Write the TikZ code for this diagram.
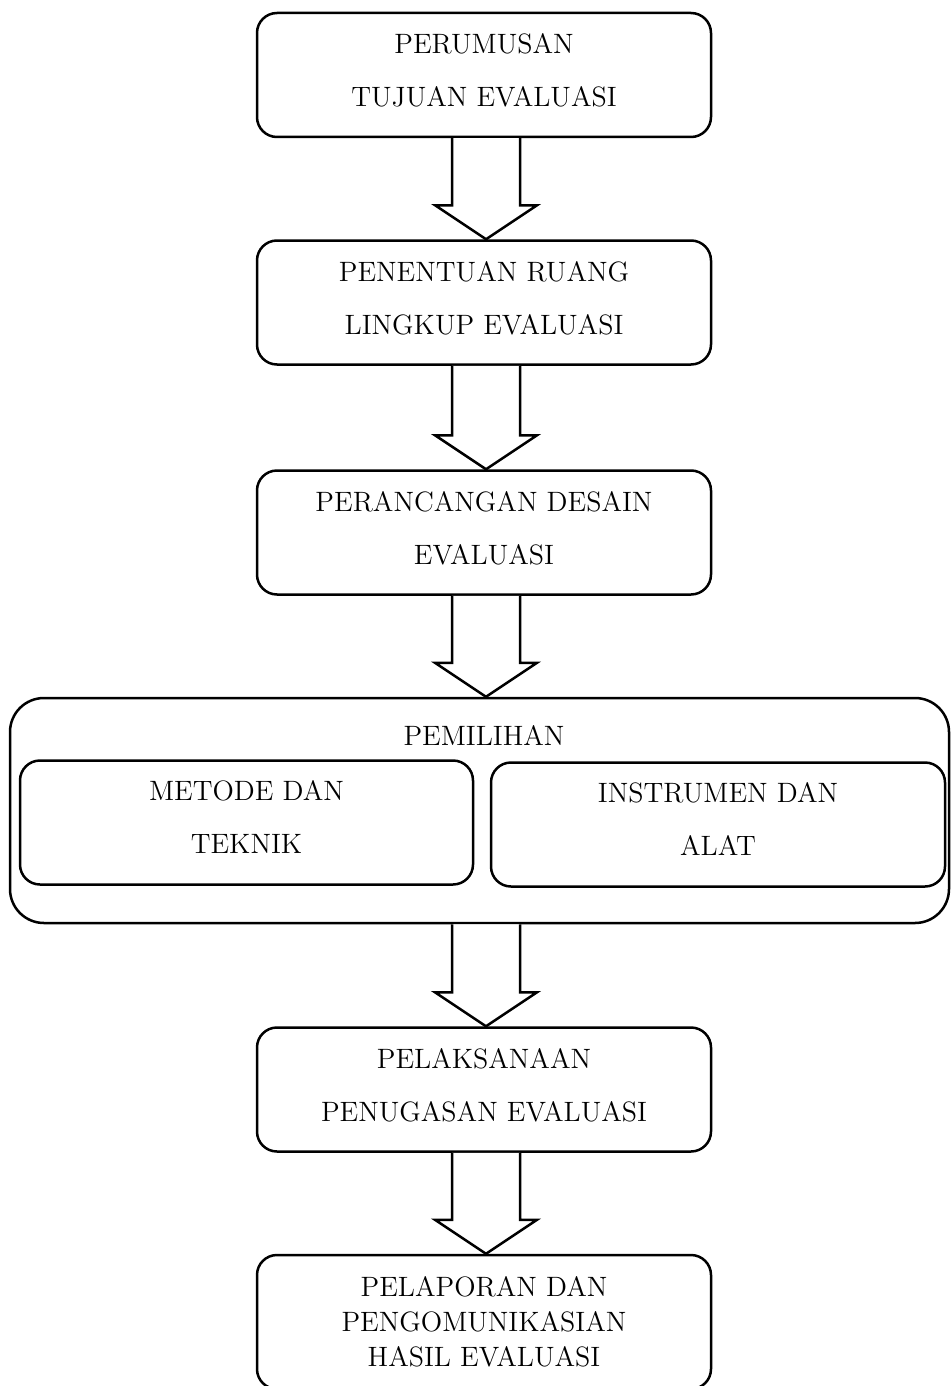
\documentclass[tikz,border=0pt]{standalone}
\usetikzlibrary{calc}
\newcommand{\dropfix}{\rule[-4.5pt]{0pt}{0pt}}
\begin{document}
\begin{tikzpicture}[x=0.5pt,y=-0.5pt,
  box/.style={draw,line width=1.25pt,rounded corners=10pt,minimum width=227pt,minimum height=62pt,align=center,inner sep=0pt,font=\fontsize{14}{26.5}\selectfont},
  bigbox/.style={draw,line width=1.25pt,rounded corners=17pt,minimum width=469.5pt,minimum height=112.5pt,inner sep=0pt},
  lbl/.style={font=\fontsize{14}{17}\selectfont,inner sep=0pt},
  blockarrow/.style={draw,line width=1.25pt,fill=white,line join=miter}]
\useasboundingbox (0,0) rectangle (951,1386);
\node[box] (b1) at (484,75) {PERUMUSAN\\TUJUAN EVALUASI\dropfix};
\node[box] (b2) at (484,302.5) {PENENTUAN RUANG\\LINGKUP EVALUASI\dropfix};
\node[box] (b3) at (484,532.5) {PERANCANGAN DESAIN\\EVALUASI\dropfix};
\node[bigbox] (big) at (479.5,810.5) {};
\node[lbl] (pem) at (484,735) {PEMILIHAN};
\node[box,minimum width=226.5pt] (m1) at (246.5,822.5) {METODE DAN\\TEKNIK\rule[-5.5pt]{0pt}{0pt}};
\node[box] (m2) at (718,824.5) {INSTRUMEN DAN\\ALAT\rule[-5.5pt]{0pt}{0pt}};
\node[box] (b5) at (484,1089.5) {PELAKSANAAN\\PENUGASAN EVALUASI\dropfix};
\node[box,minimum height=67pt,font=\fontsize{14}{17.5}\selectfont] (b6) at (484,1322) {PELAPORAN DAN\\PENGOMUNIKASIAN\\HASIL EVALUASI};
\coordinate (bigs) at (b5.north |- big.south);
\foreach \a/\b in {b1.south/b2.north,b2.south/b3.north,b3.south/big.north,bigs/b5.north,b5.south/b6.north}{
  \coordinate (t) at (\b);
  \coordinate (s0) at (\a);
  \coordinate (s) at ($(s0)+(1pt,0)$);
  \draw[blockarrow] ($(s)+(-17pt,0)$) -- ($(s|-t)+(-17pt,17pt)$) -- ($(s|-t)+(-25.5pt,17pt)$) -- (s|-t) -- ($(s|-t)+(25.5pt,17pt)$) -- ($(s|-t)+(17pt,17pt)$) -- ($(s)+(17pt,0)$);
}
\end{tikzpicture}
\end{document}
